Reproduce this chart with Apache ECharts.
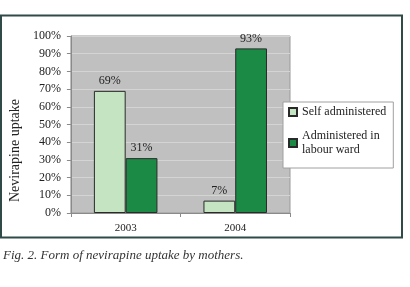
<!DOCTYPE html>
<html><head><meta charset="utf-8">
<script src="https://cdn.jsdelivr.net/npm/echarts@6/dist/echarts.min.js"></script>
<style>html,body{margin:0;padding:0;background:#fff}#c{width:410px;height:287px}</style>
</head><body><div id="c"></div>
<script>
const categories = ['2003', '2004'];
const seriesNames = ['Self administered', 'Administered in labour ward'];
const selfAdministered = [69, 7];
const labourWard = [31, 93];
const yTicks = [0, 100, 10];
const caption = 'Fig. 2. Form of nevirapine uptake by mothers.';
const yName = 'Nevirapine uptake';

const serif = '"Liberation Serif", "DejaVu Serif", serif';
const chart = echarts.init(document.getElementById('c'), null, {renderer: 'canvas'});
const labelCfg = {show: true, position: 'top', distance: 4, formatter: '{c}%', fontFamily: serif, fontSize: 12, color: '#222'};
chart.setOption({
  animation: false,
  grid: {left: 63, top: 36, width: 227, height: 177, show: true, backgroundColor: '#c0c0c0', borderColor: '#9a9a9a', borderWidth: 1},
  xAxis: {
    type: 'category', data: categories,
    axisLine: {lineStyle: {color: '#8a8a8a'}},
    axisTick: {show: true, length: 4, lineStyle: {color: '#8a8a8a'}},
    axisLabel: {fontFamily: serif, fontSize: 11, color: '#222', margin: 10}
  },
  yAxis: {
    type: 'value', min: yTicks[0], max: yTicks[1], interval: yTicks[2],
    name: yName, nameLocation: 'middle', nameRotate: 90, nameGap: 48,
    nameTextStyle: {fontFamily: serif, fontSize: 14, color: '#222', padding: [0, 52, 0, 0]},
    axisLine: {show: true, lineStyle: {color: '#8a8a8a'}},
    axisTick: {show: true, length: 4, lineStyle: {color: '#8a8a8a'}},
    axisLabel: {formatter: '{value}%', fontFamily: serif, fontSize: 12, color: '#222', margin: 10},
    splitLine: {lineStyle: {color: '#d4d4d4', width: 1}}
  },
  legend: {
    orient: 'vertical', left: 283, top: 102,
    backgroundColor: '#fff', borderColor: '#a0a0a0', borderWidth: 1,
    padding: [3, 7, 4, 5], itemGap: 3, itemWidth: 8, itemHeight: 8, icon: 'rect',
    textStyle: {fontFamily: serif, fontSize: 12, color: '#222', lineHeight: 14},
    formatter: function (n) { return n === seriesNames[1] ? 'Administered in\nlabour ward' : n; },
    data: [
      {name: seriesNames[0]},
      {name: seriesNames[1], textStyle: {padding: [14, 0, 0, 0]}}
    ]
  },
  series: [
    {name: seriesNames[0], type: 'bar', data: selfAdministered, barWidth: '29%', barGap: '0%',
      itemStyle: {color: '#c4e4c2', borderColor: '#2a2a2a', borderWidth: 1}, label: labelCfg},
    {name: seriesNames[1], type: 'bar', data: labourWard, barWidth: '29%', barGap: '0%',
      itemStyle: {color: '#1b8a45', borderColor: '#2a2a2a', borderWidth: 1}, label: labelCfg}
  ],
  graphic: [
    {type: 'rect', shape: {x: 1, y: 15.5, width: 401, height: 222}, style: {fill: null, stroke: '#2f4a47', lineWidth: 2}, z: 100},
    {type: 'text', left: 3, top: 249, style: {text: caption, font: 'italic 13px ' + serif, fill: '#333'}}
  ]
});
</script></body></html>
